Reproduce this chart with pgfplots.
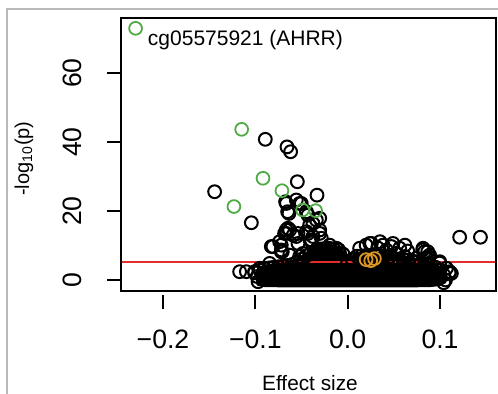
\documentclass[border=0pt]{standalone}
\usepackage{fontspec}
\setmainfont{Liberation Sans}
\usepackage{pgfplots}
\pgfplotsset{compat=1.18}
\definecolor{rred}{RGB}{225,45,45}
\definecolor{rgreen}{RGB}{80,170,70}
\definecolor{rorange}{RGB}{220,150,35}
\begin{document}
\begin{tikzpicture}
\useasboundingbox (-60.5pt,-51.5pt) rectangle (188.5pt,145.5pt);
\draw[line width=0.8pt, gray!55] (-57pt,-51.5pt) -- (-57pt,141pt) -- (188.5pt,141pt);
\begin{axis}[
  at={(0,0)}, anchor=south west,
  scale only axis, width=187.5pt, height=136.5pt,
  xmin=-0.24549, xmax=0.16065, ymin=-3.2, ymax=76,
  axis line style={line width=1pt},
  xtick={-0.2,-0.1,0,0.1}, xticklabels={−0.2,−0.1,0.0,0.1},
  ytick={0,20,40,60}, yticklabels={0,20,40,60},
  tick align=inside, xtick pos=lower, ytick pos=lower,
  major tick length=7pt,
  major tick style={line width=1pt, black},
  xtick style={yshift=-9pt},
  ytick style={xshift=-7pt},
  xticklabel style={font=\fontsize{13.3}{16}\selectfont, inner sep=0pt, anchor=north, yshift=-19.5pt},
  yticklabel style={font=\fontsize{13.3}{16}\selectfont, inner sep=0pt, anchor=south, xshift=-19.5pt, rotate=90},
  every axis x label/.style={at={(axis description cs:0.504,-0.366)}, anchor=base, font=\fontsize{10.4}{12}\selectfont},
  every axis y label/.style={at={(axis description cs:-0.2453,0.485)}, rotate=90, anchor=base, font=\fontsize{10}{12}\selectfont},
  xlabel={Effect size}, ylabel={-log\textsubscript{10}(p)},
  axis on top,
]
% dense core of the cloud (thousands of overlapping circles)
\addplot[fill=black, draw=black, line width=0.5pt, mark=none] coordinates {
(-0.099,-1.0) (-0.099,2.5) (-0.095,3.8) (-0.090,4.3) (-0.080,4.7) (-0.070,5.0)
(-0.060,5.5) (-0.055,6.2) (-0.050,7.0) (-0.045,8.0) (-0.040,8.8) (-0.035,9.5)
(-0.030,10.0) (-0.020,10.2) (-0.010,9.8) (-0.005,8.5) (-0.002,7.0) (0.000,6.0)
(0.003,6.6) (0.006,7.4) (0.010,7.9) (0.020,8.1) (0.030,8.1) (0.040,7.9)
(0.050,7.4) (0.060,7.0) (0.070,6.5) (0.080,6.0) (0.090,5.2) (0.097,4.5)
(0.103,3.0) (0.107,1.0) (0.106,-0.8)
(0.100,-1.6) (0.090,-1.9) (0.070,-2.0) (-0.070,-2.0) (-0.090,-1.9) (-0.097,-1.6)
} -- cycle;
% circles on the edge of the cloud
\addplot[only marks, mark=o, mark size=3.2pt, black, mark options={line width=1pt}] coordinates {
(-0.095,2.8) (-0.090,3.3) (-0.085,3.5) (-0.080,3.7) (-0.075,3.85) (-0.070,4.0)
(-0.065,4.2) (-0.060,4.5) (-0.055,5.2) (-0.050,6.0) (-0.045,7.0) (-0.040,7.8)
(-0.035,8.5) (-0.030,9.0) (-0.025,9.1) (-0.020,9.2) (-0.015,9.0) (-0.010,8.8)
(-0.005,7.5) (0.000,5.0) (0.005,6.0) (0.010,6.9) (0.015,7.0) (0.020,7.1)
(0.025,7.1) (0.030,7.1) (0.035,7.0) (0.040,6.9) (0.045,6.6) (0.050,6.3)
(0.055,6.1) (0.060,6.0) (0.065,5.7) (0.070,5.5) (0.075,5.3) (0.080,5.0)
(0.085,4.6) (0.090,4.2) (0.095,3.7) (0.100,2.8) (0.104,1.5)
(-0.098,1.0) (-0.097,-0.5) (0.106,0.0) (0.104,-0.8)
};
% scattered points
\addplot[only marks, mark=o, mark size=3.2pt, black, mark options={line width=1pt}] coordinates {
(-0.0892,40.8) (-0.0657,38.6) (-0.0618,37.2) (-0.1441,25.6) (-0.0545,28.5)
(-0.0332,24.6) (-0.0672,22.7) (-0.0502,22.2) (-0.1043,16.6) (-0.0636,19.3)
(-0.0303,17.9) (-0.0376,16.4) (-0.0647,15.0) (-0.0683,13.5) (-0.0556,12.6)
(-0.0430,13.5) (-0.0303,13.5) (-0.0394,11.6) (-0.0827,9.7) (-0.0719,10.1)
(-0.0708,8.2) (-0.1170,2.4) (0.1213,12.4) (0.1438,12.4) (0.0834,8.2)
(0.0870,6.8) (0.0997,5.3) (0.1105,2.4) (0.1123,1.9) (-0.1008,2.1)
(-0.0718,8.7) (-0.0628,14.5) (-0.0664,13.5) (-0.0538,13.5) (-0.0520,6.8)
(-0.0430,18.8) (-0.0412,15.9) (-0.0339,17.4) (-0.0303,14.5) (-0.0376,12.6)
(-0.0271,8.7) (-0.0556,23.2) (-0.0650,19.8) (-0.0664,22.2) (-0.0520,22.2)
(-0.0447,19.8)
(-0.0665,14.5) (-0.0737,11.1) (-0.0810,9.7) (-0.0719,8.2) (-0.0590,13.0)
(-0.0538,10.6) (-0.0447,14.0) (-0.0393,11.1) (-0.0285,12.1) (-0.0195,10.1)
(-0.0340,8.7) (-0.0484,7.7) (-0.0628,7.2) (-0.0845,4.8) (-0.0953,3.4)
(-0.1097,2.4) (-0.1008,2.4) (-0.0122,9.2) (-0.0087,7.7)
(0.0257,10.6) (0.0383,10.1) (0.0473,9.7) (0.0563,9.2) (0.0650,8.4)
(0.0813,8.7) (0.0888,7.2) (0.0997,4.9) (0.0130,9.2) (0.0200,10.1)
(0.0325,9.3) (0.0420,8.7) (0.0528,7.7) (0.0618,6.8) (0.0744,6.3)
(0.0853,6.3) (0.1070,3.4) (0.1100,2.0) (0.1000,1.4) (0.0240,10.6)
(0.0350,11.1) (0.0490,10.6) (0.0620,10.1) (0.0816,9.2) (0.0867,8.2)
};
% highlighted CpGs
\addplot[only marks, mark=o, mark size=3.2pt, rgreen, mark options={line width=0.9pt}] coordinates {
(-0.2297,73.0) (-0.1148,43.7) (-0.0917,29.5) (-0.0712,25.9) (-0.1232,21.3)
(-0.0488,20.3) (-0.0347,20.1)
};
\addplot[only marks, mark=o, mark size=3.2pt, rorange, mark options={line width=0.9pt}] coordinates {
(0.020,5.9) (0.029,6.2) (0.025,5.6)
};
% significance threshold
\addplot[rred, line width=1.1pt] coordinates {(-0.25,5.3) (0.17,5.3)};
\node[anchor=base west, inner sep=0pt, font=\fontsize{10.5}{12}\selectfont] at (axis cs:-0.2167,67.9) {cg05575921 (AHRR)};
\end{axis}
\end{tikzpicture}
\end{document}
